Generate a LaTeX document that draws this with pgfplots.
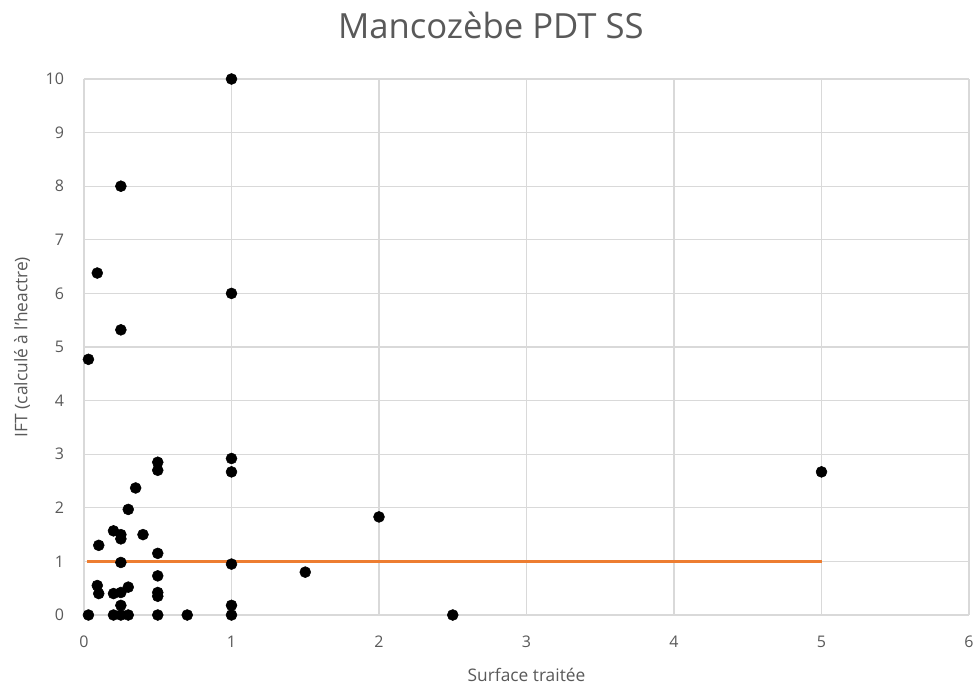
\documentclass[border=0pt]{standalone}
\usepackage{pgfplots}
\pgfplotsset{compat=1.18}
\usepackage{fontspec}
\setmainfont{Open Sans}
\definecolor{txt}{HTML}{595959}
\definecolor{grd}{HTML}{D9D9D9}
\definecolor{orng}{HTML}{ED7D31}
\begin{document}
\begin{tikzpicture}
\path[use as bounding box] (-63pt,-53.25pt) rectangle (666.75pt,461.25pt);
\begin{axis}[
  at={(0,0)}, anchor=south west,
  scale only axis, width=663.75pt, height=402pt,
  xmin=0, xmax=6, ymin=0, ymax=10,
  xtick={0,1,...,6}, ytick={0,1,...,10},
  grid=major, major grid style={grd, line width=0.8pt},
  axis line style={draw=none},
  major tick length=0pt,
  clip=false,
  /pgf/number format/assume math mode=true,
  tick label style={font=\fontsize{12}{14}\selectfont, text=txt},
  xticklabel style={yshift=-12pt},
  yticklabel style={xshift=-11.5pt},
  xlabel={Surface traitée}, ylabel={IFT (calculé à l'heactre)},
  xlabel style={at={(axis description cs:0.5,-0.112)}, anchor=center, font=\fontsize{13}{15}\selectfont, text=txt},
  ylabel style={at={(axis description cs:-0.07,0.5)}, anchor=center, font=\fontsize{13}{15}\selectfont, text=txt},
  title={Mancozèbe PDT SS},
  title style={at={(axis description cs:0.4597,1)}, anchor=center, yshift=34pt, font=\fontsize{26}{30}\selectfont, text=txt},
]
\addplot[orng, line width=2.3pt] coordinates {(0.02,1) (5,1)};
\addplot[only marks, mark=*, mark size=4.1pt, black] coordinates {
(0.03,0) (0.03,4.77) (0.09,6.38) (0.25,8) (0.25,5.32) (1,10) (1,6)
(0.5,2.85) (0.5,2.7) (1,2.92) (1,2.67) (0.35,2.37) (0.3,1.97) (0.2,1.57)
(0.25,1.5) (0.25,1.42) (0.4,1.5) (0.1,1.3) (0.5,1.15) (0.25,0.98) (1,0.95)
(0.5,0.73) (0.09,0.55) (0.1,0.4) (0.2,0.4) (0.25,0.42) (0.3,0.52) (0.25,0.18)
(0.5,0.42) (0.5,0.35) (1,0.18) (0.2,0) (0.25,0) (0.3,0) (0.5,0) (0.7,0) (1,0)
(1.5,0.8) (2,1.83) (2.5,0) (5,2.67)
};
\end{axis}
\end{tikzpicture}
\end{document}
